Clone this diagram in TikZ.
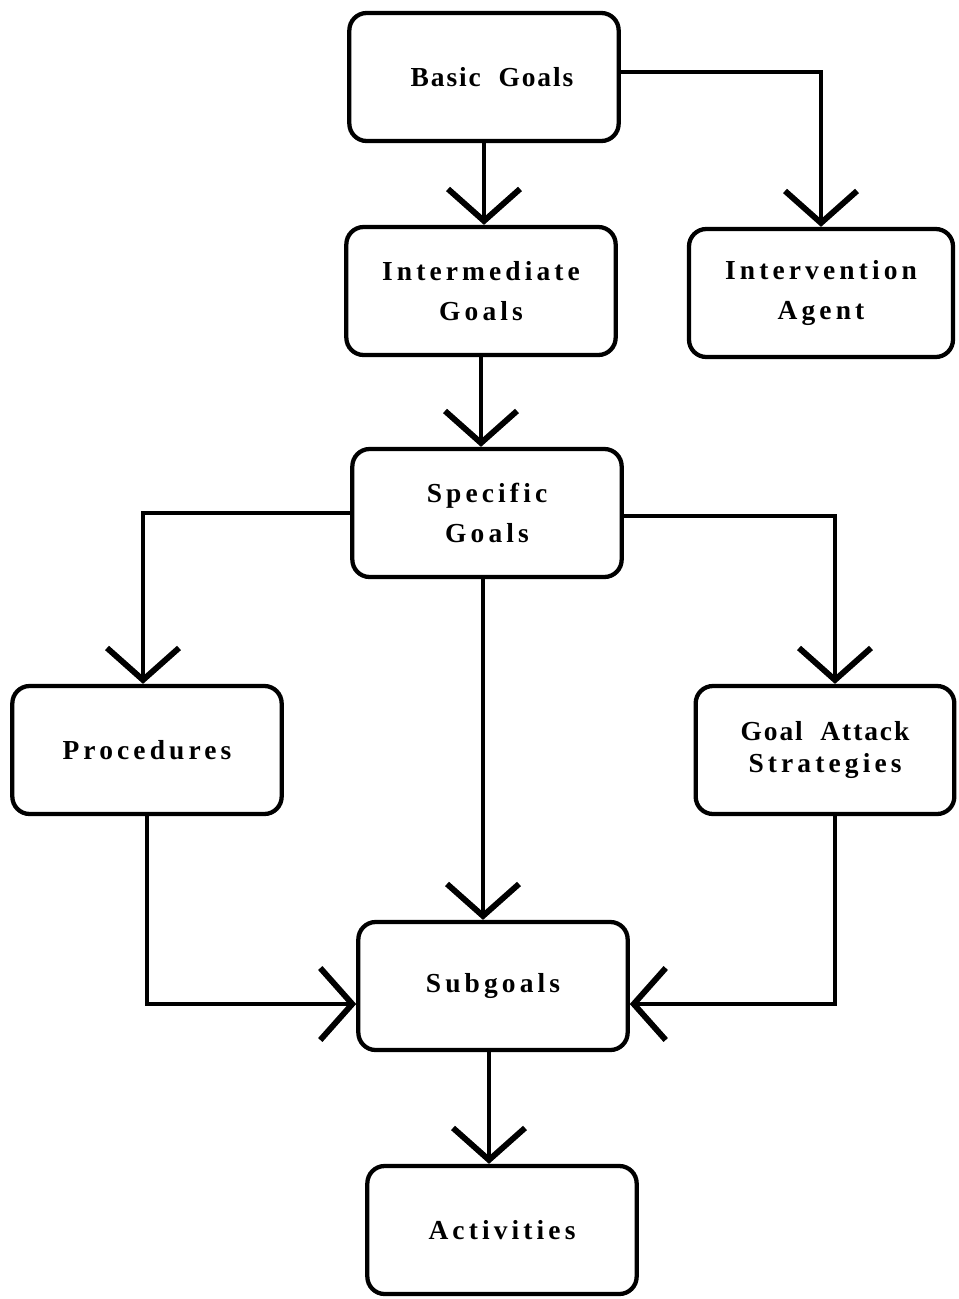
\documentclass[tikz,border=0pt]{standalone}
\usepackage{fontspec}
\usetikzlibrary{arrows.meta,positioning}
\newfontfamily\boxfont[LetterSpace=15]{Liberation Serif}
\newfontfamily\tightfont[LetterSpace=7]{Liberation Serif}
\tikzset{
  flow/.style={-{Straight Barb[length=24pt,width=54pt,line width=4.4pt]},line width=3pt},
  box/.style={draw=black,line width=3.2pt,rounded corners=13pt,
              minimum width=202pt,minimum height=96pt,inner sep=2pt,align=center,
              font=\boxfont\bfseries\fontsize{20.6}{30}\selectfont},
  tightbox/.style={box,font=\tightfont\bfseries\fontsize{20.6}{30}\selectfont},
}

\begin{document}
\begin{tikzpicture}[x=0.75pt,y=-0.75pt]
  \path[use as bounding box] (0,0) rectangle (958,1299);

  \node[tightbox] (BASIC) at (484,77) {\hspace*{12pt}Basic\ \ Goals};
  \node[box] (INTER) at (481,291) {Intermediate\\Goals};
  \node[box,minimum width=198pt] (AGENT) at (821,293) {Intervention\\Agent};
  \node[box] (SPEC) at (487,513) {Specific\\Goals};
  \node[box] (PROC) at (147,750) {Procedures};
  \node[tightbox,minimum width=194pt,font=\tightfont\bfseries\fontsize{20.6}{24}\selectfont]
    (ATTACK) at (825,750) {Goal\ \ Attack\\\boxfont Strategies};
  \node[box] (SUB) at (493,986) {Subgoals};
  \node[box] (ACT) at (502,1230) {Activities};

  \draw[flow] (BASIC.south) -- (BASIC.south |- INTER.north);
  \draw[flow] ([yshift=3.75pt]BASIC.east) -| (AGENT.north);
  \draw[flow] (INTER.south) -- (INTER.south |- SPEC.north);
  \draw[flow] (SPEC.west) -| ([xshift=-3pt]PROC.north);
  \draw[flow] ([yshift=-2pt]SPEC.east) -| ([xshift=7.5pt]ATTACK.north);
  \draw[flow] ([xshift=-3pt]SPEC.south) -- ([xshift=-3pt]SPEC.south |- SUB.north);
  \draw[flow] (PROC.south) |- ([yshift=-13.5pt]SUB.west);
  \draw[flow] ([xshift=7.5pt]ATTACK.south) |- ([yshift=-13.5pt]SUB.east);
  \draw[flow] ([xshift=-3pt]SUB.south) -- ([xshift=-3pt]SUB.south |- ACT.north);
\end{tikzpicture}
\end{document}
